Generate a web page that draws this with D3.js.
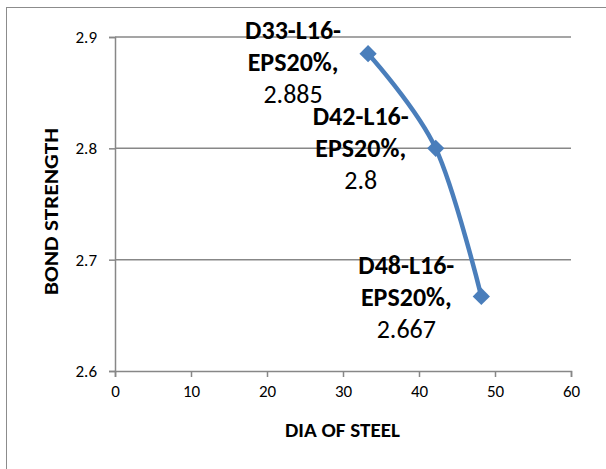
<!DOCTYPE html>
<html><head><meta charset="utf-8">
<script src="https://cdn.jsdelivr.net/npm/d3@7"></script>
<style>body{margin:0;background:#fff}svg{display:block}text{font-family:Carlito,'Liberation Sans Narrow','Liberation Sans',Arial,sans-serif}</style>
</head><body><svg id="c" width="606" height="469"></svg>
<script>
const names = ["D33-L16-EPS20%", "D42-L16-EPS20%", "D48-L16-EPS20%"];
const dia = [33.3, 42.2, 48.2];
const strength = [2.885, 2.8, 2.667];
const xTicks = [0, 10, 20, 30, 40, 50, 60];
const yTicks = [2.6, 2.7, 2.8, 2.9];
const xTitle = "DIA OF STEEL";
const yTitle = "BOND STRENGTH";

const svg = d3.select("#c");
svg.append("rect").attr("width",606).attr("height",469).attr("fill","#fff");
svg.append("rect").attr("x",6.5).attr("y",7.5).attr("width",700).attr("height",600)
  .attr("fill","none").attr("stroke","#8c8c8c").attr("stroke-width",1);

const x = d3.scaleLinear().domain([0,60]).range([115,571]);
const y = d3.scaleLinear().domain([2.6,2.9]).range([371,37]);
const axisCol = "#878787";

// gridlines
svg.append("g").selectAll("line").data(yTicks.filter(d=>d>2.6)).join("line")
  .attr("x1",x(0)).attr("x2",x(60)).attr("y1",d=>y(d)).attr("y2",d=>y(d))
  .attr("stroke",axisCol).attr("stroke-width",1.5);

// y axis
const ya = svg.append("g").attr("transform",`translate(${x(0)},0)`)
  .call(d3.axisLeft(y).tickValues(yTicks).tickSize(6).tickFormat(d3.format(".1f")));
// x axis
const xa = svg.append("g").attr("transform",`translate(0,${y(2.6)})`)
  .call(d3.axisBottom(x).tickValues(xTicks).tickSize(6));
[ya,xa].forEach(a=>{
  a.select(".domain").attr("stroke",axisCol).attr("stroke-width",1.5);
  a.selectAll(".tick line").attr("stroke",axisCol).attr("stroke-width",1.5);
  a.selectAll(".tick text").attr("fill","#000").style("font-size","17px");
});
ya.selectAll(".tick text").attr("x",-18);
xa.selectAll(".tick text").attr("y",14);

// titles
svg.append("text").attr("x",342.5).attr("y",429).attr("dy","0.36em").attr("text-anchor","middle")
  .attr("textLength",115).attr("lengthAdjust","spacingAndGlyphs")
  .style("font-size","21px").style("font-weight","bold").text(xTitle);
svg.append("text").attr("transform","translate(50.5,211.5) rotate(-90)").attr("dy","0.36em").attr("text-anchor","middle")
  .attr("textLength",167).attr("lengthAdjust","spacingAndGlyphs")
  .style("font-size","21px").style("font-weight","bold").text(yTitle);

// line
const pts = dia.map((d,i)=>[x(d), y(strength[i])]);
svg.append("path").attr("d", d3.line().curve(d3.curveCatmullRom.alpha(0))(pts))
  .attr("fill","none").attr("stroke","#4A7EBB").attr("stroke-width",4.5).attr("stroke-linecap","round");
svg.append("g").selectAll("path").data(pts).join("path")
  .attr("d", d3.symbol(d3.symbolDiamond2, 190)())
  .attr("transform",d=>`translate(${d[0]},${d[1]})`).attr("fill","#4A7EBB");

// data labels
const lh = 32;
pts.forEach((p,i)=>{
  const parts = names[i].split("-");
  const l1 = parts[0]+"-"+parts[1]+"-";
  const l2 = parts[2]+",";
  const l3 = String(strength[i]);
  const cx = p[0]-75;
  const my = Math.max(p[1], 62);
  const g = svg.append("g");
  [[l1,my-lh,true],[l2,my,true],[l3,my+lh,false]].forEach(([t,yy,b])=>{
    g.append("text").attr("x",cx).attr("y",yy).attr("dy","0.35em").attr("text-anchor","middle")
      .style("font-size","26px").style("font-weight",b?"bold":"normal").text(t);
  });
});
</script></body></html>
